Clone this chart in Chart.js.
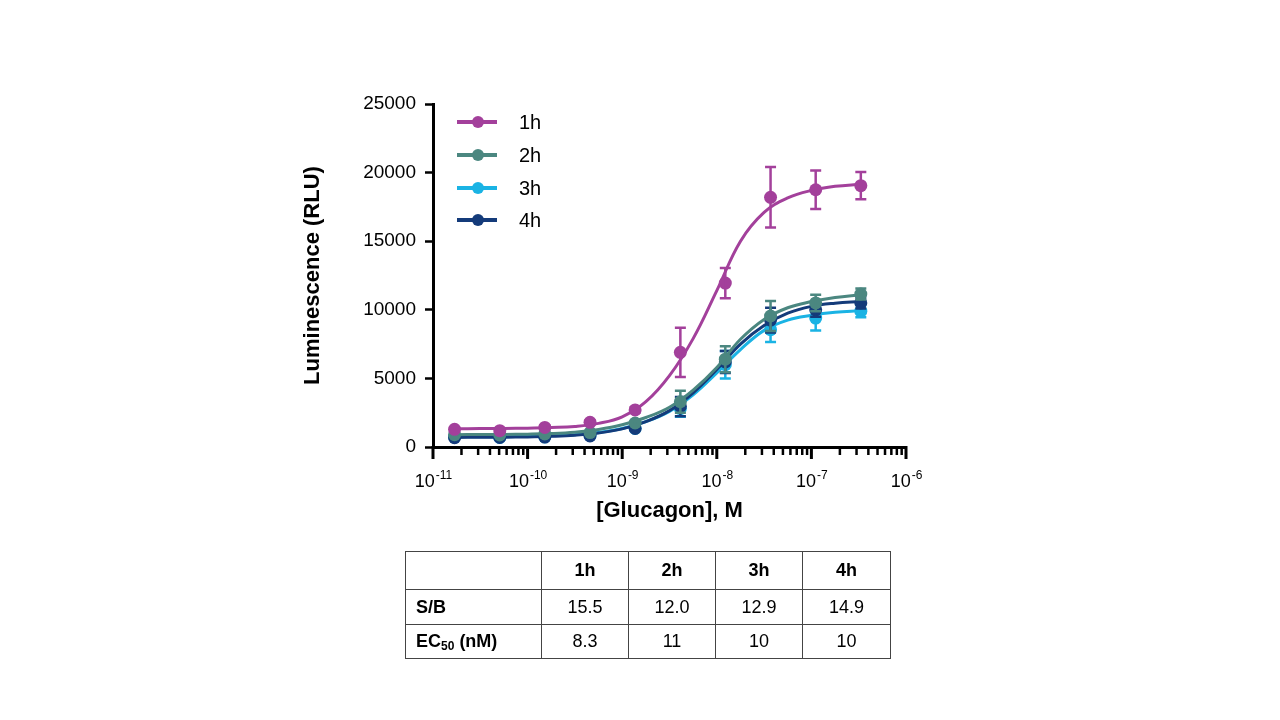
<!DOCTYPE html>
<html><head><meta charset="utf-8">
<script src="https://cdn.jsdelivr.net/npm/chart.js@4/dist/chart.umd.min.js"></script>
<style>
html,body{margin:0;padding:0;background:#fff;}
#wrap{position:relative;width:1280px;height:720px;overflow:hidden;background:#fff;}
#c{position:absolute;left:0;top:0;}
#tbl{position:absolute;left:405px;top:551px;border-collapse:collapse;table-layout:fixed;width:486px;font-family:"Liberation Sans",Arial,sans-serif;font-size:18px;color:#000;}
#tbl td{border:1px solid #444;padding:0;text-align:center;}
#tbl td.lab{text-align:left;padding-left:10px;font-weight:bold;}
#tbl tr.head td{font-weight:bold;}
</style></head>
<body>
<div id="wrap">
<canvas id="c" width="1280" height="720"></canvas>
<table id="tbl"></table>
</div>
<script>
// ---------- data ----------
const seriesLabels = ['1h', '2h', '3h', '4h'];
const seriesColors = ['#a3409b', '#4b8780', '#1ab3e4', '#143b7a'];
const concentrations = [1.69e-11, 5.08e-11, 1.52e-10, 4.57e-10, 1.37e-9, 4.12e-9, 1.23e-8, 3.70e-8, 1.11e-7, 3.33e-7];
const values1h = [1290, 1190, 1430, 1800, 2700, 6900, 11950, 18200, 18750, 19050];
const values2h = [900, 880, 950, 1050, 1750, 3300, 6400, 9550, 10500, 11150];
const values3h = [720, 700, 730, 850, 1350, 2800, 6000, 8550, 9400, 9900];
const values4h = [680, 700, 720, 800, 1350, 2950, 6200, 9250, 10000, 10500];
const errors1h = [150, 100, 150, 150, 200, 1800, 1100, 2200, 1400, 1000];
const errors2h = [100, 100, 100, 100, 150, 800, 950, 1100, 600, 400];
const errors3h = [80, 80, 80, 80, 100, 600, 1000, 900, 900, 450];
const errors4h = [80, 80, 80, 80, 100, 700, 800, 900, 500, 400];
// fitted curves
const curveConc = [1.7e-11, 3.16e-11, 5.62e-11, 1e-10, 1.78e-10, 3.16e-10, 5.62e-10, 1e-9, 1.78e-9, 3.16e-9, 5.62e-9, 1e-8, 1.78e-8, 3.16e-8, 5.62e-8, 1e-7, 1.78e-7, 3.33e-7];
const curve1h = [1330, 1340, 1355, 1375, 1420, 1500, 1720, 2200, 3300, 5200, 7900, 11400, 15000, 17100, 18150, 18700, 19000, 19150];
const curve2h = [900, 905, 915, 935, 980, 1080, 1280, 1620, 2150, 2900, 4150, 5800, 7850, 9300, 10150, 10600, 10900, 11100];
const curve3h = [740, 745, 755, 775, 820, 900, 1060, 1350, 1850, 2600, 3800, 5400, 7100, 8500, 9250, 9600, 9820, 9940];
const curve4h = [700, 705, 715, 735, 780, 860, 1020, 1320, 1850, 2650, 3950, 5650, 7500, 8850, 9750, 10250, 10480, 10600];
const yTicks = [0, 5000, 10000, 15000, 20000, 25000];
const xExponents = [-11, -10, -9, -8, -7, -6];
const tableHeader = ['', '1h', '2h', '3h', '4h'];
const sbValues = ['15.5', '12.0', '12.9', '14.9'];
const ec50Values = ['8.3', '11', '10', '10'];

// ---------- table ----------
(function(){
  const t = document.getElementById('tbl');
  const widths = [136, 87, 87, 87, 88];
  const cg = document.createElement('colgroup');
  widths.forEach(w => { const c = document.createElement('col'); c.style.width = w + 'px'; cg.appendChild(c); });
  t.appendChild(cg);
  const h = document.createElement('tr'); h.className = 'head'; h.style.height = '38px';
  tableHeader.forEach(s => { const td = document.createElement('td'); td.textContent = s; h.appendChild(td); });
  t.appendChild(h);
  const r1 = document.createElement('tr'); r1.style.height = '35px';
  let td = document.createElement('td'); td.className = 'lab'; td.textContent = 'S/B'; r1.appendChild(td);
  sbValues.forEach(s => { const d = document.createElement('td'); d.textContent = s; r1.appendChild(d); });
  t.appendChild(r1);
  const r2 = document.createElement('tr'); r2.style.height = '34px';
  td = document.createElement('td'); td.className = 'lab'; td.innerHTML = 'EC<sub style="font-size:12px;vertical-align:-3px">50</sub> (nM)'; r2.appendChild(td);
  ec50Values.forEach(s => { const d = document.createElement('td'); d.textContent = s; r2.appendChild(d); });
  t.appendChild(r2);
})();

// ---------- chart ----------
const FONT = '"Liberation Sans", Arial, sans-serif';
Chart.defaults.font.family = FONT;
Chart.defaults.color = '#000';

const valueSets = [values1h, values2h, values3h, values4h];
const errorSets = [errors1h, errors2h, errors3h, errors4h];
const curveSets = [curve1h, curve2h, curve3h, curve4h];
const drawOrder = [1, 3, 7, 5]; // 1h top, 2h, 4h, 3h bottom

const datasets = [];
seriesLabels.forEach((lab, s) => {
  datasets.push({
    label: lab + ' fit', type: 'line',
    data: curveConc.map((x, i) => ({x, y: curveSets[s][i]})),
    borderColor: seriesColors[s], borderWidth: 3, pointRadius: 0,
    tension: 0.4, fill: false, order: drawOrder[s] + 1
  });
  datasets.push({
    label: lab, type: 'line', showLine: false,
    data: concentrations.map((x, i) => ({x, y: valueSets[s][i]})),
    errors: errorSets[s],
    borderColor: seriesColors[s], backgroundColor: seriesColors[s],
    pointRadius: 6.5, pointBorderWidth: 0, order: drawOrder[s]
  });
});

const errorBarPlugin = {
  id: 'errorBars',
  afterDatasetDraw(chart, args) {
    const ds = chart.data.datasets[args.index];
    if (!ds.errors) return;
    const xs = chart.scales.x, ys = chart.scales.y, ctx = chart.ctx;
    ctx.save();
    ctx.strokeStyle = ds.borderColor; ctx.lineWidth = 2.5;
    ds.data.forEach((p, i) => {
      const e = ds.errors[i];
      const px = xs.getPixelForValue(p.x);
      const t = ys.getPixelForValue(p.y + e), b = ys.getPixelForValue(p.y - e);
      ctx.beginPath();
      ctx.moveTo(px, t); ctx.lineTo(px, b);
      ctx.moveTo(px - 5.5, t); ctx.lineTo(px + 5.5, t);
      ctx.moveTo(px - 5.5, b); ctx.lineTo(px + 5.5, b);
      ctx.stroke();
    });
    ctx.restore();
  }
};

const xAxisPlugin = {
  id: 'xAxisDeco',
  afterDraw(chart) {
    const xs = chart.scales.x, ctx = chart.ctx, y0 = chart.chartArea.bottom;
    ctx.save();
    ctx.strokeStyle = '#000';
    for (let e = xExponents[0]; e <= xExponents[xExponents.length - 1]; e++) {
      for (let k = 1; k <= 9; k++) {
        if (e === xExponents[xExponents.length - 1] && k > 1) break;
        const px = xs.getPixelForValue(k * Math.pow(10, e));
        const major = k === 1;
        ctx.lineWidth = major ? 3 : 2.5;
        ctx.beginPath();
        ctx.moveTo(px, y0 - 1);
        ctx.lineTo(px, y0 + (major ? 12 : 8));
        ctx.stroke();
      }
    }
    ctx.fillStyle = '#000';
    ctx.textBaseline = 'alphabetic';
    xExponents.forEach(e => {
      const px = xs.getPixelForValue(Math.pow(10, e));
      const base = '10', sup = String(e);
      ctx.font = '18px ' + FONT;
      const wb = ctx.measureText(base).width;
      ctx.font = '12px ' + FONT;
      const ws = ctx.measureText(sup).width;
      const left = px - (wb + ws) / 2;
      ctx.font = '18px ' + FONT;
      ctx.textAlign = 'left';
      ctx.fillText(base, left, 487);
      ctx.font = '12px ' + FONT;
      ctx.fillText(sup, left + wb + 1, 479);
    });
    ctx.restore();
  }
};

const legendPlugin = {
  id: 'customLegend',
  afterDraw(chart) {
    const ctx = chart.ctx;
    const rows = [122, 155, 188, 220];
    ctx.save();
    seriesLabels.forEach((lab, s) => {
      const y = rows[s];
      ctx.strokeStyle = seriesColors[s]; ctx.fillStyle = seriesColors[s];
      ctx.lineWidth = 4;
      ctx.beginPath(); ctx.moveTo(457, y); ctx.lineTo(497, y); ctx.stroke();
      ctx.beginPath(); ctx.arc(478, y, 6, 0, Math.PI * 2); ctx.fill();
      ctx.fillStyle = '#000';
      ctx.font = '20px ' + FONT;
      ctx.textAlign = 'left'; ctx.textBaseline = 'middle';
      ctx.fillText(lab, 519, y + 1);
    });
    ctx.restore();
  }
};

new Chart(document.getElementById('c'), {
  type: 'line',
  data: { datasets },
  plugins: [errorBarPlugin, xAxisPlugin, legendPlugin],
  options: {
    responsive: false, animation: false, devicePixelRatio: 1,
    layout: { padding: { left: 300, right: 374, top: 104, bottom: 193 } },
    plugins: { legend: { display: false }, tooltip: { enabled: false } },
    scales: {
      x: {
        type: 'logarithmic', min: 1e-11, max: 1e-6,
        grid: { display: false },
        border: { display: true, color: '#000', width: 3 },
        ticks: { display: false },
        title: { display: true, text: '[Glucagon], M', font: { size: 22, weight: 'bold' }, padding: { top: 0, bottom: 3 } },
        afterFit(s) { s.height = 80; }
      },
      y: {
        min: 0, max: 25000,
        afterBuildTicks(s) { s.ticks = yTicks.map(v => ({ value: v })); },
        grid: { drawOnChartArea: false, drawTicks: true, tickLength: 8, tickWidth: 2.5, tickColor: '#000' },
        border: { display: true, color: '#000', width: 3 },
        ticks: { font: { size: 19 }, color: '#000', padding: 9, callback: v => String(v) },
        title: { display: true, text: 'Luminescence (RLU)', font: { size: 22, weight: 'bold' }, padding: { top: 0, bottom: 0 } },
        afterFit(s) { s.width = 133; }
      }
    }
  }
});
</script>
</body></html>
